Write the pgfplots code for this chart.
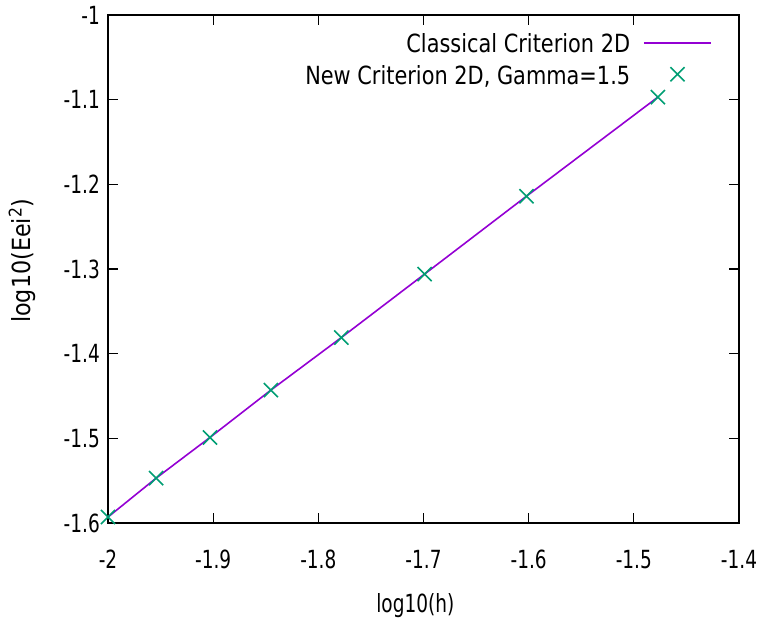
\documentclass[border=0pt]{standalone}
\usepackage{fontspec}
\setmainfont{DejaVu Sans}[FakeStretch=0.835]
\newfontfamily\tickfont{DejaVu Sans}[FakeStretch=0.74]
\newfontfamily\labfont{DejaVu Sans}[FakeStretch=0.74]
\newfontfamily\ylabfont{DejaVu Sans}[FakeStretch=0.89]
\usepackage{pgfplots}
\pgfplotsset{compat=1.18}
\definecolor{gpviolet}{RGB}{148,0,211}
\definecolor{gpgreen}{RGB}{0,158,115}
\pgfplotsset{
  lineleg/.style={legend image code/.code={\draw[##1] (0bp,2bp) -- (67bp,2bp);}},
  markleg/.style={legend image code/.code={\draw[mark repeat=2,mark phase=2,##1] plot coordinates {(0bp,3bp)(33.5bp,3bp)(67bp,3bp)};}},
}
\begin{document}
\begin{tikzpicture}
\path[use as bounding box] (0,0) rectangle (765bp,623bp);
\begin{axis}[
  at={(108bp,100bp)}, anchor=south west,
  scale only axis, width=631bp, height=508bp,
  xmin=-2, xmax=-1.4, ymin=-1.6, ymax=-1,
  xtick={-2,-1.9,-1.8,-1.7,-1.6,-1.5,-1.4},
  ytick={-1.6,-1.5,-1.4,-1.3,-1.2,-1.1,-1},
  xticklabels={-2,-1.9,-1.8,-1.7,-1.6,-1.5,-1.4},
  yticklabels={-1.6,-1.5,-1.4,-1.3,-1.2,-1.1,-1},
  tick pos=both, tick align=inside, major tick length=10bp,
  axis line style={line width=1.6bp},
  every tick/.style={black, line width=1.2bp},
  xticklabel style={font=\fontsize{25bp}{30bp}\tickfont, inner sep=0pt, yshift=-27bp},
  yticklabel style={font=\fontsize{25bp}{30bp}\tickfont, inner sep=0pt, xshift=-8bp},
  xlabel={log10(h)},
  ylabel={log10(Eei\textsuperscript{2})},
  xlabel style={font=\fontsize{25bp}{30bp}\labfont, at={(axis description cs:0.487,0)}, anchor=center, yshift=-83bp, inner sep=0pt},
  ylabel style={font=\fontsize{25bp}{30bp}\ylabfont, at={(axis description cs:-0.136,0.516)}, anchor=center, rotate=0, inner sep=0pt},
  legend plot pos=right,
  legend cell align=right,
  legend style={draw=none, fill=none, font=\fontsize{25bp}{30bp}\selectfont,
    at={(axis description cs:0.9572,0.9646)}, anchor=north east,
    inner sep=0pt, column sep=13bp, row sep=8bp,
    nodes={inner sep=0pt, text height=19bp, text depth=5bp}},
]
\addplot[color=gpviolet, line width=1.6bp, no marks, lineleg]
  coordinates {(-2,-1.593) (-1.95424,-1.547) (-1.90309,-1.499) (-1.84510,-1.443) (-1.77815,-1.381) (-1.69897,-1.306) (-1.60206,-1.214) (-1.47712,-1.097)};
\addlegendentry{Classical Criterion 2D}
\addplot[color=gpgreen, only marks, mark=x, mark size=10bp, mark options={line width=1.6bp}, markleg]
  coordinates {(-2,-1.593) (-1.95424,-1.547) (-1.90309,-1.499) (-1.84510,-1.443) (-1.77815,-1.381) (-1.69897,-1.306) (-1.60206,-1.214) (-1.47712,-1.097)};
\addlegendentry{New Criterion 2D, Gamma=1.5}
\end{axis}
\end{tikzpicture}
\end{document}
